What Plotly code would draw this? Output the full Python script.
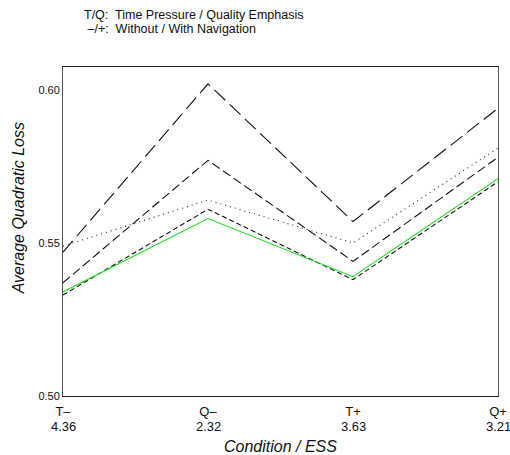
import plotly.graph_objects as go

conditions = ["T–", "Q–", "T+", "Q+"]
ess_values = ["4.36", "2.32", "3.63", "3.21"]
x_pos = [0, 1, 2, 3]

series_long = [0.547, 0.602, 0.557, 0.594]
series_medium = [0.537, 0.577, 0.544, 0.578]
series_dotted = [0.549, 0.564, 0.550, 0.581]
series_short = [0.533, 0.561, 0.538, 0.570]
series_green = [0.534, 0.558, 0.539, 0.571]

y_ticks = [0.50, 0.55, 0.60]
y_ticktext = ["0.50", "0.55", "0.60"]

fig = go.Figure()
styles = [
    (series_long, "#111111", "15px,6px"),
    (series_medium, "#111111", "9px,4px"),
    (series_dotted, "#222222", "1px,4px"),
    (series_short, "#111111", "5px,3px"),
    (series_green, "#22dd22", "solid"),
]
for vals, col, dash in styles:
    fig.add_trace(go.Scatter(x=x_pos, y=vals, mode="lines",
                             line=dict(color=col, width=1.1, dash=dash),
                             showlegend=False, hoverinfo="skip"))

font = "Liberation Sans, Arial, sans-serif"
annotations = [
    dict(text="T/Q:  Time Pressure / Quality Emphasis", xref="paper", yref="paper",
         x=0.044, y=1.158, xanchor="left", yanchor="middle", showarrow=False,
         font=dict(size=12.5)),
    dict(text=" –/+:  Without / With Navigation", xref="paper", yref="paper",
         x=0.044, y=1.1155, xanchor="left", yanchor="middle", showarrow=False,
         font=dict(size=12.5)),
    dict(text="<i>Condition / ESS</i>", xref="paper", yref="paper",
         x=0.501, y=-0.153, xanchor="center", yanchor="middle", showarrow=False,
         font=dict(size=16)),
    dict(text="<i>Average Quadratic Loss</i>", xref="paper", yref="paper",
         x=-0.103, y=0.571, xanchor="center", yanchor="middle", showarrow=False,
         textangle=-90, font=dict(size=16)),
]
for xp, ess in zip(x_pos, ess_values):
    annotations.append(dict(text=ess, xref="x", yref="paper", x=xp, y=-0.094,
                            xanchor="center", yanchor="middle", showarrow=False,
                            font=dict(size=13)))

fig.update_layout(
    width=510, height=455,
    margin=dict(l=63, r=12, t=67, b=59),
    paper_bgcolor="white", plot_bgcolor="white",
    font=dict(family=font, color="#111"),
    xaxis=dict(range=[0, 3], tickvals=x_pos, ticktext=conditions,
               showgrid=False, zeroline=False, showline=True, mirror=True,
               linecolor="#222", linewidth=1, ticks="", tickfont=dict(size=13),
               ticklabeloverflow="allow", ticklabelstandoff=3, automargin=False),
    yaxis=dict(range=[0.5, 0.6075], tickvals=y_ticks, ticktext=y_ticktext,
               showgrid=False, zeroline=False, showline=True, mirror=True,
               linecolor="#555", linewidth=1, ticks="", tickfont=dict(size=11),
               automargin=False),
    annotations=annotations,
)
fig.write_html("out.html")
